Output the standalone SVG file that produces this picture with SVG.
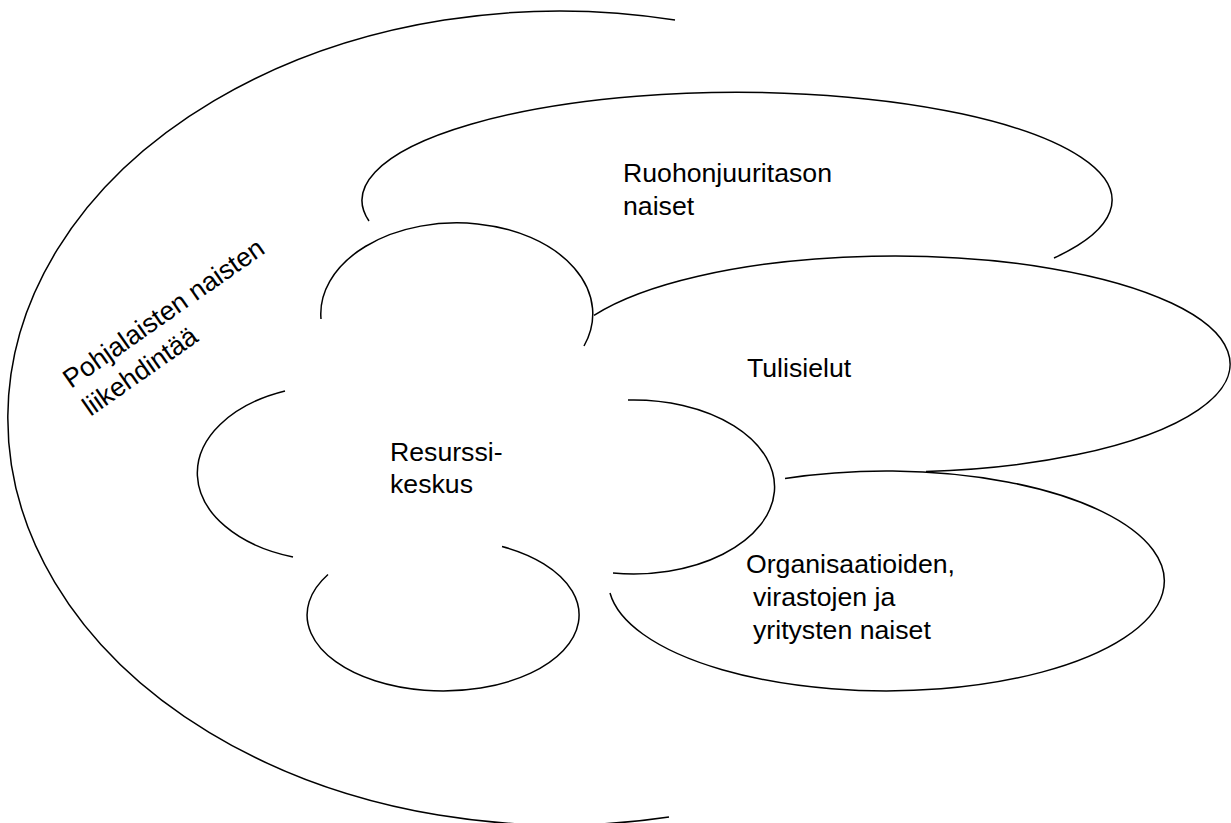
<svg xmlns="http://www.w3.org/2000/svg" width="1231" height="823" viewBox="0 0 1231 823">
<style>
.ln{fill:none;stroke:#000;stroke-width:1.5}
.t{font-family:"Liberation Sans",Arial,sans-serif;font-size:26.67px;fill:#000}
</style>
<rect width="1231" height="823" fill="#fff"/>
<g id="movement">
<path class="ln" d="M675,20 A552,407 0 1,0 669,817"/>
<text class="t" transform="translate(71,389) rotate(-35)"><tspan x="0" y="0">Pohjalaisten naisten</tspan><tspan x="0" y="34">liikehdintää</tspan></text>
</g>
<g id="ruohonjuuri">
<path class="ln" d="M369,221 A375,108 0 1,1 1054,258"/>
<text class="t"><tspan x="623" y="182">Ruohonjuuritason</tspan><tspan x="623" y="215">naiset</tspan></text>
</g>
<g id="tulisielut">
<path class="ln" d="M594,315.4 A336,108 0 1,1 926,471.5"/>
<text class="t" x="747" y="377">Tulisielut</text>
</g>
<g id="organisaatiot">
<path class="ln" d="M785,478.5 A278,110 0 1,1 610,593"/>
<text class="t"><tspan x="746" y="573">Organisaatioiden,</tspan><tspan x="753" y="606">virastojen ja</tspan><tspan x="753" y="639">yritysten naiset</tspan></text>
</g>
<g id="resurssikeskus">
<path class="ln" d="M321,319 A136,91 0 1,1 584,346"/>
<path class="ln" d="M285,391 A137,88 0 0,0 293,557"/>
<path class="ln" d="M628,400 A141,87 0 1,1 613,573"/>
<path class="ln" d="M328,574.5 A136,76 0 1,0 502,546.5"/>
<text class="t"><tspan x="390" y="461">Resurssi-</tspan><tspan x="390" y="493">keskus</tspan></text>
</g>
<g id="connectors"></g>
</svg>
